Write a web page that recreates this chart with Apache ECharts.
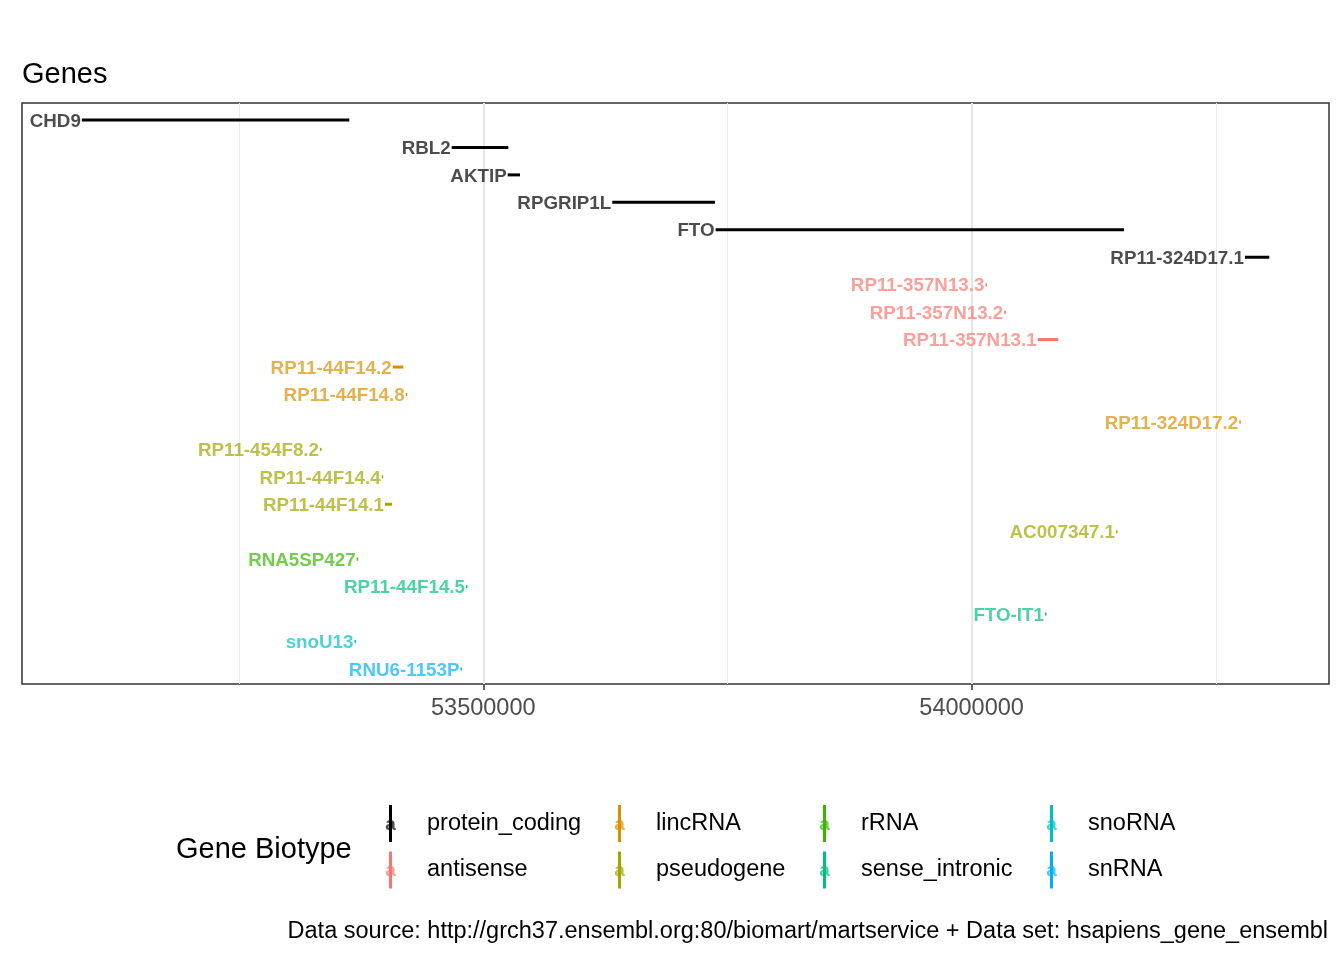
<!DOCTYPE html>
<html>
<head>
<meta charset="utf-8">
<script src="https://cdn.jsdelivr.net/npm/echarts@6/dist/echarts.min.js"></script>
<style>html,body{margin:0;padding:0;background:#fff}#c{width:1344px;height:960px}</style>
</head>
<body>
<div id="c"></div>
<script>
// ---- data ----
const geneNames = ['CHD9','RBL2','AKTIP','RPGRIP1L','FTO','RP11-324D17.1',
  'RP11-357N13.3','RP11-357N13.2','RP11-357N13.1',
  'RP11-44F14.2','RP11-44F14.8','RP11-324D17.2',
  'RP11-454F8.2','RP11-44F14.4','RP11-44F14.1','AC007347.1',
  'RNA5SP427','RP11-44F14.5','FTO-IT1','snoU13','RNU6-1153P'];
const geneStarts = [53088945,53467650,53524986,53632088,53737875,54279910,
  54014208,54033457,54067655,
  53407240,53420550,54274074,
  53332802,53395977,53399356,54147827,
  53370379,53482292,54075130,53368127,53476660];
const geneEnds = [53362802,53525603,53537582,53737243,54156018,54304810,
  54015700,54034900,54088748,
  53418093,53421882,54275400,
  53334100,53397300,53406523,54149100,
  53370500,53483600,54076400,53368230,53476770];
const geneBiotypes = ['protein_coding','protein_coding','protein_coding','protein_coding','protein_coding','protein_coding',
  'antisense','antisense','antisense',
  'lincRNA','lincRNA','lincRNA',
  'pseudogene','pseudogene','pseudogene','pseudogene',
  'rRNA','sense_intronic','sense_intronic','snoRNA','snRNA'];
const geneRows = [1,2,3,4,5,6,7,8,9,10,11,12,13,14,15,16,17,18,19,20,21];
const biotypes = ['protein_coding','antisense','lincRNA','pseudogene','rRNA','sense_intronic','snoRNA','snRNA'];
const biotypeColors = ['#000000','#F8766D','#D89000','#A3A500','#39B600','#00BF7D','#00BFC4','#00B0F6'];
const majorTicks = [53500000, 54000000];
const minorTicks = [53250000, 53750000, 54250000];
const xMin = 53027680, xMax = 54365942;

function rgba(hex, a) {
  const n = parseInt(hex.slice(1), 16);
  return 'rgba(' + ((n >> 16) & 255) + ',' + ((n >> 8) & 255) + ',' + (n & 255) + ',' + a + ')';
}
const FONT = '"Liberation Sans", Arial, Helvetica, sans-serif';

const series = biotypes.map((bt, bi) => {
  const idx = [];
  geneBiotypes.forEach((b, i) => { if (b === bt) idx.push(i); });
  const color = biotypeColors[bi];
  return {
    name: bt,
    type: 'custom',
    xAxisIndex: 0, yAxisIndex: 0,
    itemStyle: { color: color },
    encode: { x: [0, 1], y: 2 },
    data: idx.map(i => [geneStarts[i], geneEnds[i], geneRows[i]]),
    renderItem: function (params, api) {
      const s = api.coord([api.value(0), api.value(2)]);
      const e = api.coord([api.value(1), api.value(2)]);
      const name = geneNames[idx[params.dataIndex]];
      return {
        type: 'group',
        children: [
          { type: 'line', shape: { x1: s[0], y1: s[1], x2: Math.max(e[0], s[0] + 1.5), y2: e[1] },
            style: { stroke: color, lineWidth: 3 } },
          { type: 'text', x: s[0] - 1, y: s[1] + 1.5,
            style: { text: name, align: 'right', verticalAlign: 'middle',
              fill: rgba(color, 0.7), font: 'bold 18.8px ' + FONT } }
        ]
      };
    }
  };
});

// legend columns (filled by column, as in the reference)
const legendCols = [[0,1],[2,3],[4,5],[6,7]];
const legendLines = [389, 618, 823, 1050];
const legends = legendCols.map((col, ci) => ({
  orient: 'vertical',
  left: legendLines[ci], top: 805,
  padding: 0,
  itemWidth: 3, itemHeight: 37, itemGap: 9.5,
  icon: 'rect',
  data: col.map(k => biotypes[k]),
  textStyle: { fontSize: 23.5, color: '#000', fontFamily: FONT, padding: [4, 0, 0, 30] }
}));

const legendGlyphs = [];
legendCols.forEach((col, ci) => {
  col.forEach((k, ri) => {
    legendGlyphs.push({
      type: 'text', x: legendLines[ci] + 1.5, y: 824.5 + ri * 46.5,
      style: { text: 'a', align: 'center', verticalAlign: 'middle',
        fill: rgba(biotypeColors[k], 0.7), font: 'bold 19px ' + FONT },
      z: 100, silent: true
    });
  });
});

const chart = echarts.init(document.getElementById('c'), null, { renderer: 'canvas' });
chart.setOption({
  backgroundColor: '#fff',
  animation: false,
  title: {
    text: 'Genes', left: 22, top: 60, padding: 0,
    textStyle: { fontSize: 29, fontWeight: 'normal', color: '#000', fontFamily: FONT, lineHeight: 29 }
  },
  grid: { left: 22, right: 15, top: 103, bottom: 276, show: true, borderColor: '#333333', borderWidth: 1.5, backgroundColor: 'transparent' },
  xAxis: [{
    type: 'value', min: xMin, max: xMax, position: 'bottom',
    axisLine: { show: false },
    axisTick: { show: true, length: 6, customValues: majorTicks, lineStyle: { color: '#333333', width: 1.5 } },
    axisLabel: { customValues: majorTicks, margin: 13, fontSize: 23.5, color: '#4d4d4d', fontFamily: FONT,
      formatter: v => String(v) },
    splitLine: { show: true, lineStyle: { color: '#e6e6e6', width: 2 } }
  }, {
    type: 'value', min: xMin, max: xMax, position: 'bottom',
    axisLine: { show: false },
    axisTick: { show: false, customValues: minorTicks },
    axisLabel: { show: false, customValues: minorTicks },
    splitLine: { show: true, lineStyle: { color: '#ebebeb', width: 1 } }
  }],
  yAxis: { type: 'value', inverse: true, min: 0.381, max: 21.547, show: false },
  legend: legends,
  series: series,
  graphic: [
    { type: 'text', left: 176, top: 835, style: { text: 'Gene Biotype', font: '29px ' + FONT, fill: '#000' } },
    { type: 'text', x: 1328, y: 932, style: { text: 'Data source: http://grch37.ensembl.org:80/biomart/martservice + Data set: hsapiens_gene_ensembl',
      align: 'right', verticalAlign: 'middle', font: '23.5px ' + FONT, fill: '#000' } }
  ].concat(legendGlyphs)
});
</script>
</body>
</html>
